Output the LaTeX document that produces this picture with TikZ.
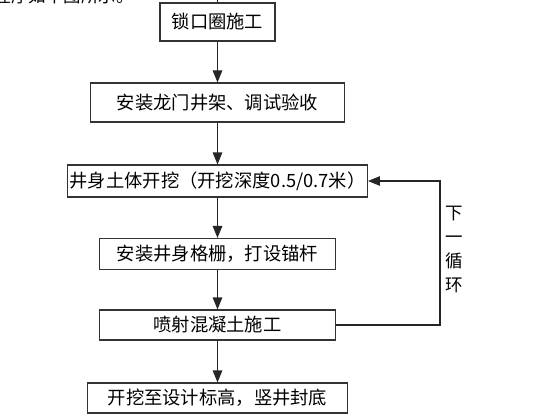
\documentclass[tikz,border=0pt]{standalone}
\usepackage{fontspec}
\newfontfamily\cjk{Noto Sans CJK SC}
\usetikzlibrary{arrows.meta}
\usetikzlibrary{positioning}
\tikzset{>={Triangle[length=12pt,width=9.5pt]}}
\tikzstyle{stepbox} = [rectangle, draw = black!80, line width = 1.1pt, inner sep = 2, font = \cjk\fontsize{18.3}{20}\selectfont]
\tikzstyle{flow} = [->, draw = black!85, line width = 1.1pt]

\begin{document}
\begin{tikzpicture}[x = 1pt, y = -1pt]
\useasboundingbox (0, 0) rectangle (560, 420);
%\node [draw=none] at (60, -8) {cut off caption};
\begin{scope}
\clip (0, 0) rectangle (560, 420);
\node [draw = none, anchor = base west, font = \cjk\fontsize{17.5}{20}\selectfont] (cap) at (-10, 3) {程序如下图所示。};
\coordinate (in) at (217.5, -10);
\node [stepbox, minimum width = 115, minimum height = 38] (lock) at (217.5, 22) {锁口圈施工};
\node [stepbox, minimum width = 254, minimum height = 39] (frame) at (217.5, 102.5) {安装龙门井架、调试验收};
\node [stepbox, minimum width = 295, minimum height = 32] (dig) at (217.5, 181) {井身土体开挖（开挖深度0.5/0.7米）};
\node [stepbox, minimum width = 236, minimum height = 31] (grid) at (217.5, 254) {安装井身格栅，打设锚杆};
\node [stepbox, minimum width = 236, minimum height = 30] (spray) at (217.5, 325) {喷射混凝土施工};
\node [stepbox, minimum width = 260, minimum height = 30] (seal) at (217.5, 398) {开挖至设计标高，竖井封底};
\coordinate (turn) at (440, 325);
\node [draw = none, align = center, font = \cjk\fontsize{17.5}{24}\selectfont] (next) at (454, 249) {下\\一\\循\\环};
\draw [-, draw = black!85, line width = 1.1pt] (in) -- (lock);
\draw [flow] (lock) -- (frame);
\draw [flow] (frame) -- (dig);
\draw [flow] (dig) -- (grid);
\draw [flow] (grid) -- (spray);
\draw [flow] (spray) -- (seal);
\draw [flow] (spray.east) -- (turn) |- (dig.east);
\end{scope}
\end{tikzpicture}
\end{document}
